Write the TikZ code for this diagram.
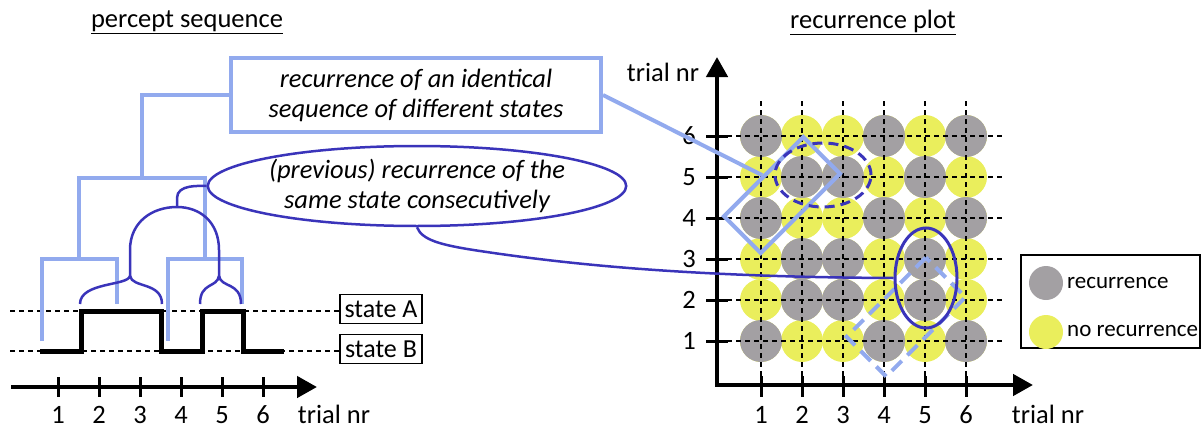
\documentclass[tikz,border=0pt]{standalone}
\usepackage{fontspec}
\setmainfont{Carlito}
\usetikzlibrary{arrows.meta,shapes.geometric}
\definecolor{lblue}{RGB}{146,170,238}
\definecolor{dblue}{RGB}{58,52,186}
\definecolor{cgray}{RGB}{163,160,163}
\definecolor{cyel}{RGB}{234,238,92}
\begin{document}
\begin{tikzpicture}[x=1pt,y=-1pt,
  font=\fontsize{26.5}{30}\selectfont,
  lb/.style={draw=lblue, line width=4pt},
  db/.style={draw=dblue, line width=2.5pt},
  gridline/.style={draw=black, line width=1.5pt, dash pattern=on 5pt off 4pt},
  axisline/.style={line width=4.5pt},
  tickline/.style={line width=3pt},
  statebox/.style={draw=black, line width=1.5pt, minimum width=82, minimum height=29, inner sep=1pt},
  lbl/.style={inner sep=0pt}
]
\useasboundingbox (0,0) rectangle (1202,431);

% ---------- titles ----------
\node[lbl] (t1) at (187,22) {\underline{percept sequence}};
\node[lbl] (t2) at (873,22) {\underline{recurrence plot}};

% ---------- left panel ----------
\node[statebox, font=\fontsize{26}{30}\selectfont] (sA) at (381,309) {state A};
\node[statebox, font=\fontsize{26}{30}\selectfont] (sB) at (381,349) {state B};
\coordinate (dA) at (10,311);
\coordinate (dB) at (10,351);
\draw[gridline] (dA) -- (dA -| sA.west);
\draw[gridline] (dB) -- (dB -| sB.west);

% light blue brackets
\node[draw=lblue, line width=4pt, minimum width=370, minimum height=74, inner sep=2pt, align=center, font=\fontsize{26.5}{30}\selectfont\itshape] (box) at (416,95) {recurrence of an identical\\sequence of different states};
\draw[lb] (42,341) -- (42,259) -- (117,259) -- (117,304);
\draw[lb] (168,341) -- (168,259) -- (242,259) -- (242,304);
\draw[lb] (79,259) -- (79,178) -- (205,178) -- (205,259);
\draw[lb] (142,178) -- (142,95) -- (box.west);

% signal
\draw[line width=5pt] (40,351) -- (81,351) -- (81,311) -- (161,311) -- (161,351) -- (202,351) -- (202,311) -- (243,311) -- (243,351) -- (284,351);

% dark blue tree
\node[ellipse, draw=dblue, line width=2.5pt, minimum width=370, minimum height=80, inner sep=0pt, align=center, font=\fontsize{26.5}{30}\selectfont\itshape] (ell) at (417,186) {(previous) recurrence of the\\same state consecutively};
\draw[db] (ell.west) .. controls (200,186) and (177,184) .. (177,198) -- (177,207);
\draw[db] (130,278) -- (130,250) .. controls (130,222) and (152,207) .. (177,207) .. controls (200,207) and (219,222) .. (219,250) -- (219,278);
\draw[db] (130,276) .. controls (128,286) and (80,282) .. (80,304);
\draw[db] (130,276) .. controls (132,288) and (162,282) .. (162,304);
\draw[db] (219,276) .. controls (217,288) and (200,282) .. (200,304);
\draw[db] (219,276) .. controls (221,288) and (241,282) .. (241,304);

% left axis
\draw[axisline, -{Triangle[length=20pt,width=21pt]}] (11,387) -- (317,387);
\foreach \k in {1,...,6} {
  \pgfmathsetmacro{\xx}{17+41*\k}
  \draw[tickline] (\xx,377) -- (\xx,397);
  \node[lbl] (lx\k) at (\xx,415) {\k};
}
\node[lbl] (ltr) at (334,414) {trial nr};

% ---------- recurrence plot ----------
% circles
\foreach \i in {1,...,6} {
  \foreach \j in {1,...,6} {
    \fill[cyel] ({720+41*\i},{382-41*\j}) circle (21);
  }
}
\foreach \i in {1,4,6} {
  \foreach \j in {1,4,6} {
    \fill[cgray] ({720+41*\i},{382-41*\j}) circle (21);
  }
}
\foreach \i in {2,3,5} {
  \foreach \j in {2,3,5} {
    \fill[cgray] ({720+41*\i},{382-41*\j}) circle (21);
  }
}
% grid
\foreach \k in {1,...,6} {
  \pgfmathsetmacro{\xx}{720+41*\k}
  \pgfmathsetmacro{\yy}{382-41*\k}
  \draw[gridline] (\xx,101) -- (\xx,376);
  \draw[gridline] (727,\yy) -- (1003,\yy);
  \draw[tickline] (\xx,376) -- (\xx,397);
  \draw[tickline] (706,\yy) -- (728,\yy);
  \node[lbl] (px\k) at (\xx,415) {\k};
  \node[lbl] (py\k) at (689,\yy) {\k};
}
% axes
\draw[axisline, line join=miter, {Triangle[length=20pt,width=21pt]}-{Triangle[length=20pt,width=21pt]}] (717,57) -- (717,385) -- (1033,385);
\node[lbl] (ytr) at (663,72) {trial nr};
\node[lbl] (xtr) at (1048,414) {trial nr};

% overlays
\node[draw=lblue, line width=4pt, minimum width=112, minimum height=52, inner sep=0pt, rotate=45] (dia1) at (782,195) {};
\node[draw=lblue, line width=4pt, dash pattern=on 14pt off 8pt, minimum width=112, minimum height=56, inner sep=0pt, rotate=45] (dia2) at (906,317) {};
\node[ellipse, draw=dblue, line width=3pt, dash pattern=on 10pt off 6pt, minimum width=96, minimum height=64, inner sep=0pt] (el1) at (823,175) {};
\node[ellipse, draw=dblue, line width=3pt, minimum width=62, minimum height=100, inner sep=0pt] (el2) at (926,278) {};

% connectors
\draw[lb] (box.east) -- (dia1.north);
\draw[db] (ell.south) .. controls (422,240) and (440,245) .. (480,251) .. controls (560,263) and (680,277) .. (el2.west);

% legend
\node[draw=black, line width=1.5pt, minimum width=179, minimum height=93, inner sep=0pt] (leg) at (1110.5,301.5) {};
\fill[cgray] (1046,283) circle (17);
\fill[cyel] (1046,332) circle (17);
\node[lbl, anchor=west, font=\fontsize{23}{27}\selectfont] (lg1) at (1067,283) {recurrence};
\node[lbl, anchor=west, font=\fontsize{23}{27}\selectfont] (lg2) at (1067,331) {no recurrence};
\end{tikzpicture}
\end{document}
